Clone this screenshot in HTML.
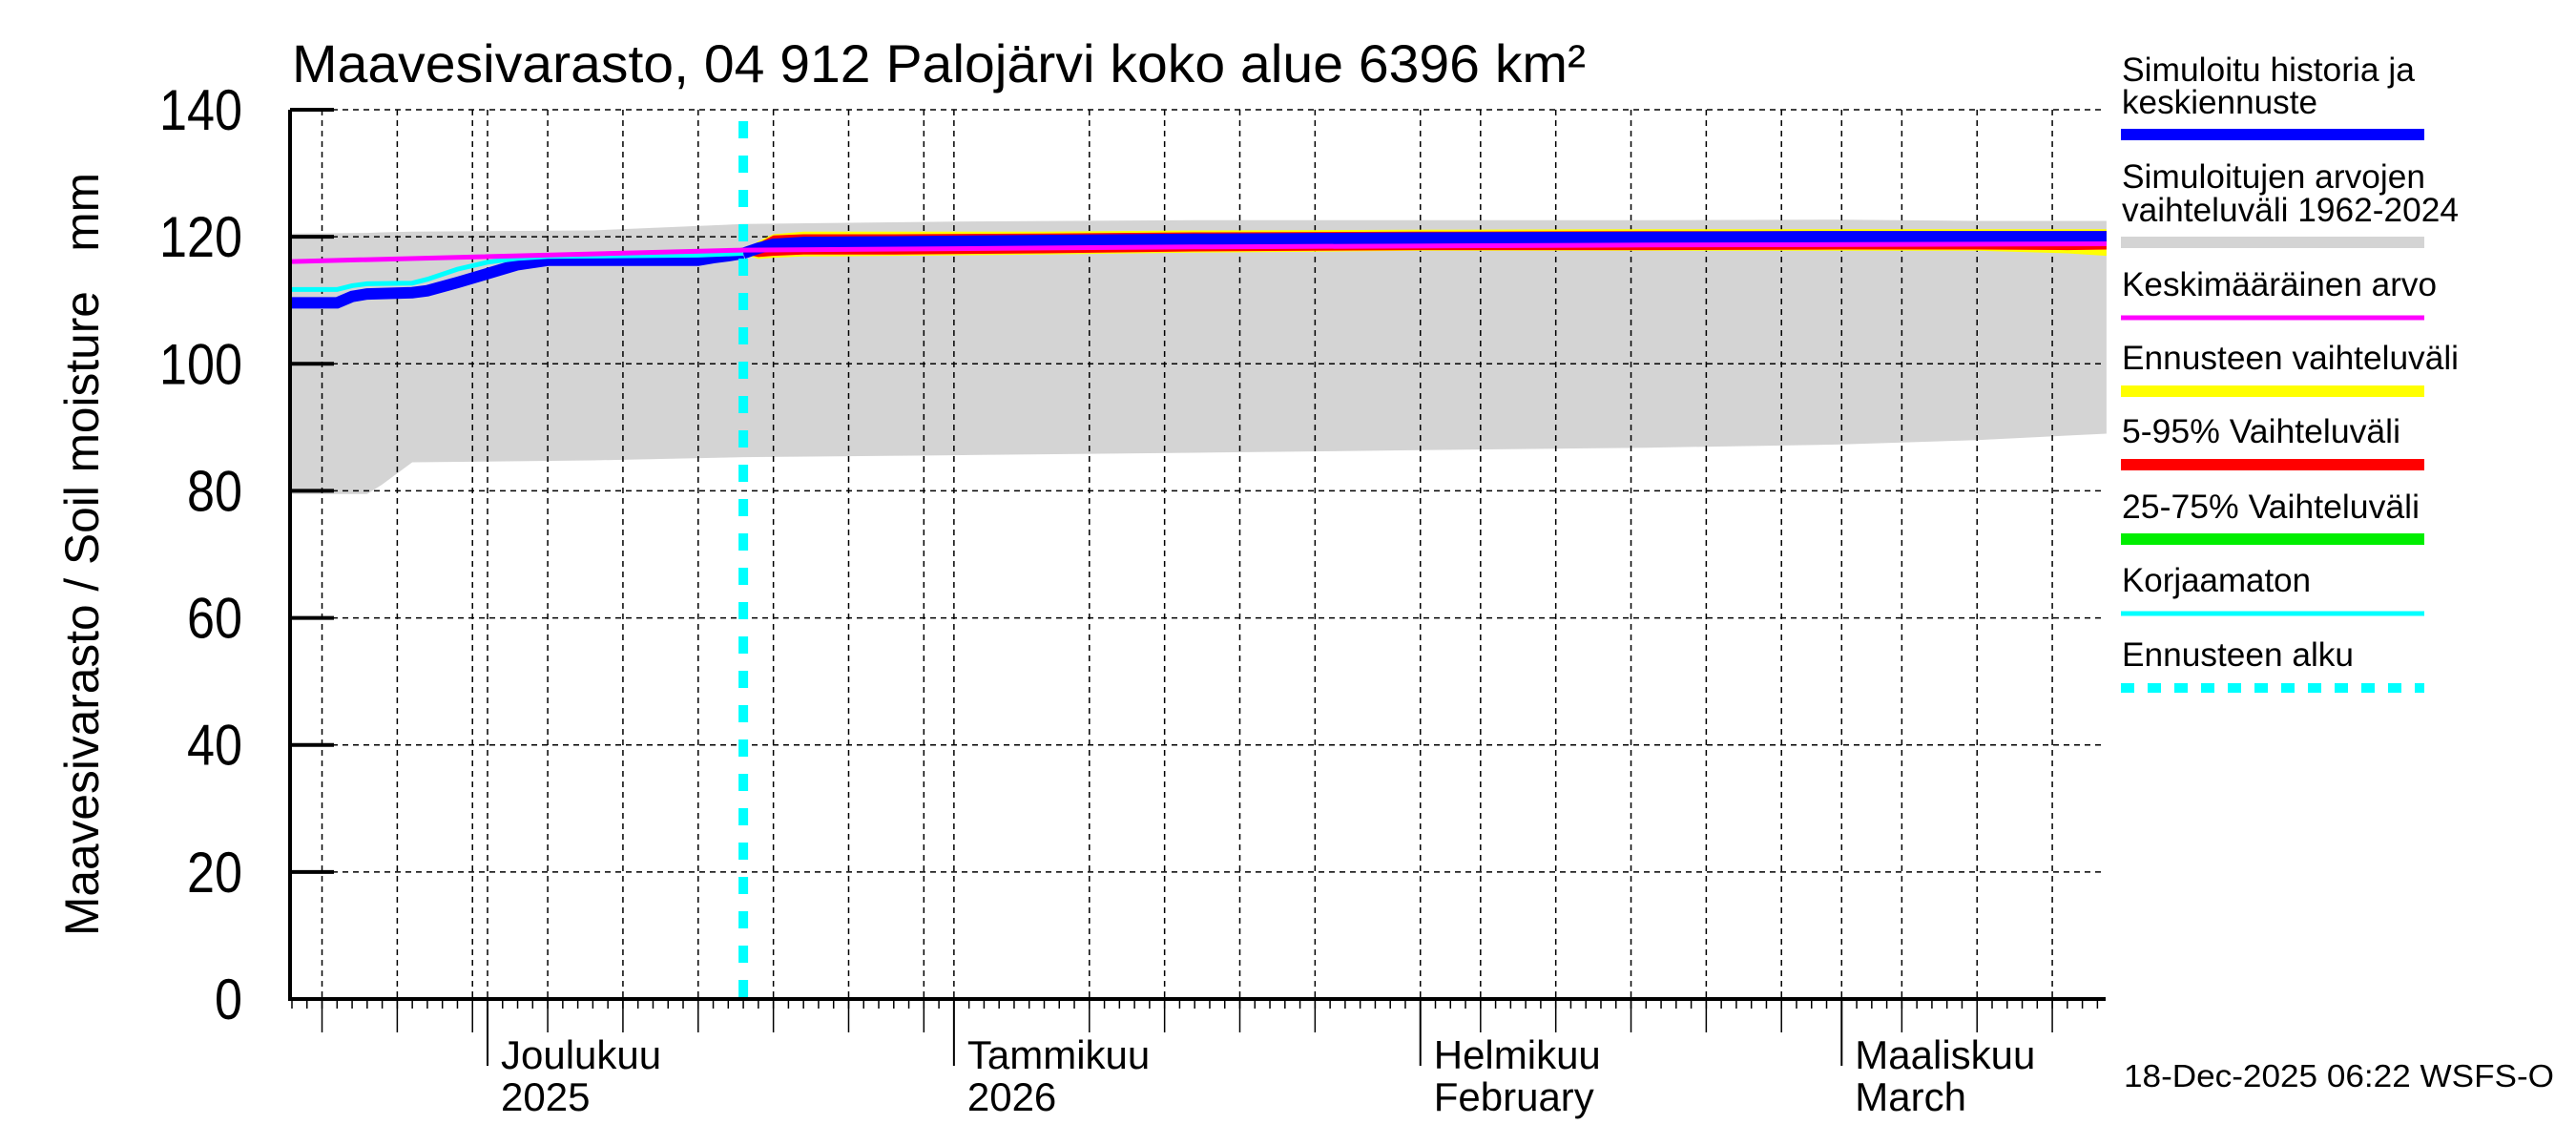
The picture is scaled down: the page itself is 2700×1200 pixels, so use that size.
<!DOCTYPE html>
<html><head><meta charset="utf-8"><style>
html,body{margin:0;padding:0;background:#fff}
svg{display:block;font-family:"Liberation Sans",sans-serif}
</style></head><body>
<svg id="chart" width="2700" height="1200" viewBox="0 0 2700 1200" xmlns="http://www.w3.org/2000/svg">
<rect width="2700" height="1200" fill="#fff"/>
<text x="306" y="86" font-size="56" textLength="1356" lengthAdjust="spacingAndGlyphs">Maavesivarasto, 04 912 Palojärvi koko alue 6396 km²</text>
<text transform="translate(103,981) rotate(-90)" font-size="50" textLength="800" lengthAdjust="spacingAndGlyphs" style="white-space:pre" xml:space="preserve">Maavesivarasto / Soil moisture   mm</text>
<g id="plot"></g>
<g id="legend"></g>
<text x="2226" y="1139" font-size="33" textLength="451" lengthAdjust="spacingAndGlyphs">18-Dec-2025 06:22 WSFS-O</text>
</svg>
<script>
// day index 0 = 18 Nov 2025
const yTicks = [0,20,40,60,80,100,120,140];
const monthDays = [13,44,75,103];
const monthLabels1 = ["Joulukuu","Tammikuu","Helmikuu","Maaliskuu"];
const monthLabels2 = ["2025","2026","February","March"];
const gridDays = [2,7,12,17,22,27,32,37,42,53,58,63,68,79,84,89,94,99,107,112,117];
const bandDays = [0,5,6,8,20,30,44,60,75,90,103,112,120.6];
const bandHigh = [120.5,120.6,120.7,120.8,121.0,122.0,122.4,122.6,122.6,122.6,122.7,122.5,122.5];
const bandLow  = [79.5,79.5,81,84.5,84.8,85.3,85.6,86,86.4,86.8,87.3,88,89];
const meanDays = [0,30,60,90,120.6];
const meanVals = [116.1,117.9,118.4,118.7,118.9];
const histDays = [0,3,4,5,8,9,11,13,15,17,27,28,29,30];
const histVals = [109.6,109.6,110.6,111,111.2,111.5,112.8,114.2,115.6,116.3,116.3,116.7,117,117.4];
const rawDays = [0,3,4,5,8,9,11,13,15,17,27,30];
const rawVals = [111.7,111.7,112.3,112.6,112.7,113.3,114.9,116,116.6,116.9,117.1,117.4];
const fcDays = [30,31,32,34,40,50,60,75,90,103,112,118,120.6];
const fcMed  = [117.4,118.2,118.8,119.1,119.2,119.4,119.6,119.8,119.9,120.0,120.0,120.0,120.0];
const fcYelHi= [117.6,119.3,120.4,120.8,120.8,120.8,121.0,121.1,121.2,121.2,121.2,121.2,121.2];
const fcYelLo= [117.2,116.5,116.7,116.9,117.0,117.2,117.5,117.8,117.8,117.8,117.8,117.4,117.0];
const fcRedHi= [117.5,119.0,120.2,120.4,120.4,120.5,120.7,120.8,120.9,120.9,120.9,120.9,120.9];
const fcRedLo= [117.3,116.8,117.0,117.2,117.2,117.4,117.7,117.9,117.9,118.0,118.0,117.9,118.0];
const fcGrnHi= [117.5,118.6,119.4,119.7,119.8,119.9,120.1,120.3,120.4,120.5,120.5,120.5,120.5];
const fcGrnLo= [117.3,117.8,118.2,118.5,118.6,118.8,119.0,119.2,119.3,119.4,119.4,119.4,119.4];
const forecastStartDay = 30;

const NS="http://www.w3.org/2000/svg";
const X0=304, X1=2207, Y0=1047, YTOP=115;
function xs(d){return 511+(d-13)*15.77;}
function ys(v){return Y0-(v/140)*(Y0-YTOP);}
const plot=document.getElementById('plot');
function mk(tag,attrs,parent){const e=document.createElementNS(NS,tag);for(const k in attrs)e.setAttribute(k,attrs[k]);(parent||plot).appendChild(e);return e;}
function pts(days,vals){return days.map((d,i)=>xs(d).toFixed(1)+','+ys(vals[i]).toFixed(1));}
function band(days,hi,lo){return 'M'+pts(days,hi).join('L')+'L'+pts(days.slice().reverse(),lo.slice().reverse()).join('L')+'Z';}

let e;
e=mk('path',{d:band(bandDays,bandHigh,bandLow),fill:'#d4d4d4'});



gridDays.concat(monthDays).forEach(d=>{
  const l=mk('line',{x1:xs(d),x2:xs(d),y1:YTOP,y2:Y0,stroke:'#000','stroke-width':1.5,'stroke-dasharray':'6,5'});
  
  
});
yTicks.forEach(v=>{
  if(v===0)return;
  const l=mk('line',{x1:X0,x2:X1,y1:ys(v),y2:ys(v),stroke:'#000','stroke-width':1.5,'stroke-dasharray':'6,5'});
  
  
});

e=mk('path',{d:band(fcDays,fcYelHi,fcYelLo),fill:'#ffff00'});


e=mk('path',{d:band(fcDays,fcRedHi,fcRedLo),fill:'#ff0000'});


e=mk('path',{d:band(fcDays,fcGrnHi,fcGrnLo),fill:'#00ee00'});



e=mk('polyline',{points:pts(histDays,histVals).join(' '),fill:'none',stroke:'#0000ff','stroke-width':12});


e=mk('polyline',{points:pts(fcDays,fcMed).join(' '),fill:'none',stroke:'#0000ff','stroke-width':12});


e=mk('polyline',{points:pts(rawDays,rawVals).join(' '),fill:'none',stroke:'#00ffff','stroke-width':5});


e=mk('polyline',{points:pts(meanDays,meanVals).join(' '),fill:'none',stroke:'#ff00ff','stroke-width':5});



e=mk('line',{x1:xs(forecastStartDay),x2:xs(forecastStartDay),y1:127,y2:Y0,stroke:'#00ffff','stroke-width':10,'stroke-dasharray':'18,18'});



e=mk('line',{x1:X0,x2:X0,y1:YTOP,y2:Y0+2,stroke:'#000','stroke-width':4});


e=mk('line',{x1:X0-2,x2:X1,y1:Y0,y2:Y0,stroke:'#000','stroke-width':4});


yTicks.forEach(v=>{
  const t=mk('line',{x1:X0,x2:350,y1:ys(v),y2:ys(v),stroke:'#000','stroke-width':4});
  
  
  const s=String(v);
  const lb=mk('text',{x:254,y:ys(v)+21,'font-size':60,'text-anchor':'end',textLength:s.length*29,lengthAdjust:'spacingAndGlyphs'});
  lb.textContent=s;
  
  
});
for(let d=0; xs(d)<=X1; d++){
  const t=mk('line',{x1:xs(d),x2:xs(d),y1:Y0,y2:Y0+10,stroke:'#000','stroke-width':1.5});
  
  
}
gridDays.forEach(d=>{
  const t=mk('line',{x1:xs(d),x2:xs(d),y1:Y0,y2:1082,stroke:'#000','stroke-width':1.5});
  
  
});
monthDays.forEach((d,i)=>{
  const t=mk('line',{x1:xs(d),x2:xs(d),y1:Y0,y2:1117,stroke:'#000','stroke-width':2});
  
  
  const a=mk('text',{x:xs(d)+14,y:1120,'font-size':42});
  a.textContent=monthLabels1[i];
  
  
  const b=mk('text',{x:xs(d)+14,y:1164,'font-size':42});
  b.textContent=monthLabels2[i];
  
  
});

const lg=document.getElementById('legend');
const legTexts=[["Simuloitu historia ja","keskiennuste"],["Simuloitujen arvojen","vaihteluväli 1962-2024"],["Keskimääräinen arvo"],["Ennusteen vaihteluväli"],["5-95% Vaihteluväli"],["25-75% Vaihteluväli"],["Korjaamaton"],["Ennusteen alku"]];
const legTextW=[[307,205],[318,353],[330],[353],[292],[312],[198],[243]];
const legBase=[[85,119],[197,232],[310],[387],[464],[543],[620],[698]];
const legLineY=[141,254,333,410,487,565,643,721];
const legColors=['#0000ff','#d4d4d4','#ff00ff','#ffff00','#ff0000','#00ee00','#00ffff','#00ffff'];
const legWidths=[12,12,5,12,12,12,5,10];
const legNames=['history','sim-range','mean','forecast-range','p5-95','p25-75','uncorrected','forecast-start'];
legTexts.forEach((lines,i)=>{
  lines.forEach((s,j)=>{
    const t=mk('text',{x:2224,y:legBase[i][j],'font-size':35,textLength:legTextW[i][j],lengthAdjust:'spacingAndGlyphs'},lg);
    t.textContent=s;
    
    
  });
  const a={x1:2223,x2:2541,y1:legLineY[i],y2:legLineY[i],stroke:legColors[i],'stroke-width':legWidths[i]};
  if(i===7)a['stroke-dasharray']='14,14';
  const l=mk('line',a,lg);
  
  
});
</script>
</body></html>
